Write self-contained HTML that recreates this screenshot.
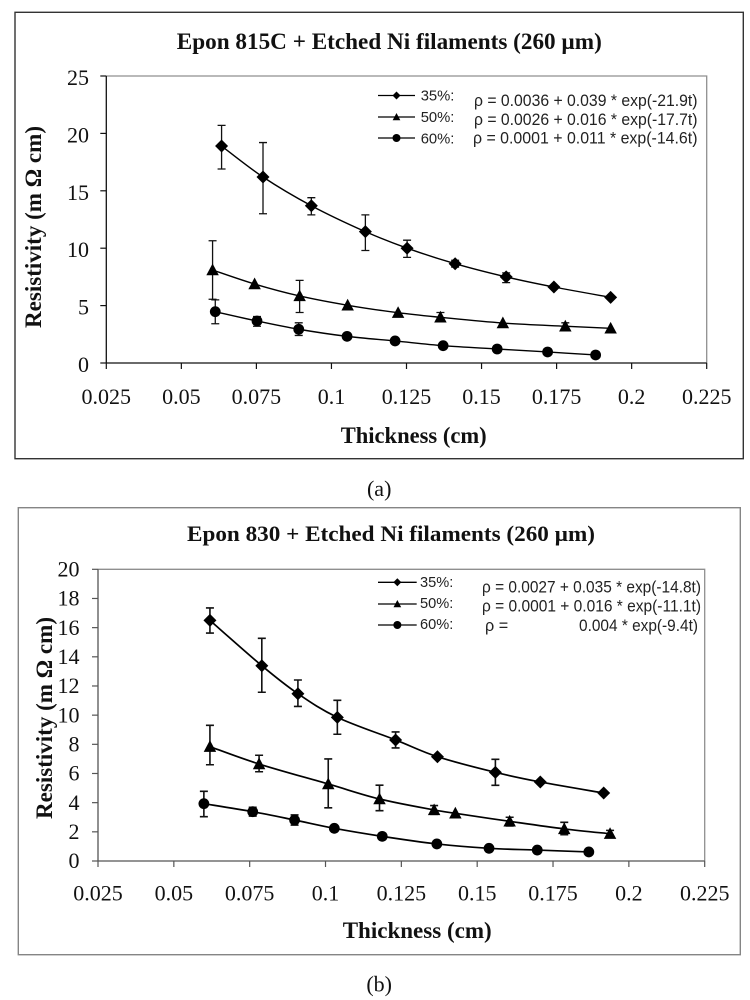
<!DOCTYPE html>
<html>
<head>
<meta charset="utf-8">
<title>Resistivity vs Thickness</title>
<style>
html,body{margin:0;padding:0;background:#fff;width:750px;height:1000px;overflow:hidden}
svg{display:block;filter:blur(0.35px)}
.serif{font-family:"Liberation Serif",serif;fill:#111}
.sans{font-family:"Liberation Sans",sans-serif;fill:#222}
.bold{font-weight:bold}
</style>
</head>
<body>
<svg id="figure" xmlns="http://www.w3.org/2000/svg" width="750" height="1000" viewBox="0 0 750 1000">
  <rect x="15" y="12.3" width="728.3" height="446.4" fill="#fff" stroke="#333" stroke-width="1.4"/>
  <text class="serif bold" x="389.3" y="49" font-size="23" text-anchor="middle" textLength="425" lengthAdjust="spacingAndGlyphs">Epon 815C + Etched Ni filaments (260 µm)</text>
  <text class="serif bold" x="413.7" y="443" font-size="23" text-anchor="middle" textLength="146" lengthAdjust="spacingAndGlyphs">Thickness (cm)</text>
  <text class="serif bold" transform="translate(41,227) rotate(-90)" font-size="23" text-anchor="middle" textLength="202" lengthAdjust="spacingAndGlyphs">Resistivity (m Ω cm)</text>

  <g>
    <text class="sans" x="420.7" y="100.7" font-size="14.8">35%:</text>
    <text class="sans" x="420.7" y="122" font-size="14.8">50%:</text>
    <text class="sans" x="420.7" y="143.7" font-size="14.8">60%:</text>
    <text class="sans" x="474" y="106" font-size="16.4" textLength="223.5" lengthAdjust="spacingAndGlyphs">ρ = 0.0036 + 0.039 * exp(-21.9t)</text>
    <text class="sans" x="474" y="125" font-size="16.4" textLength="223.5" lengthAdjust="spacingAndGlyphs">ρ = 0.0026 + 0.016 * exp(-17.7t)</text>
    <text class="sans" x="473" y="143.7" font-size="16.4" textLength="224.5" lengthAdjust="spacingAndGlyphs">ρ = 0.0001 + 0.011 * exp(-14.6t)</text>
  </g>

  <text class="serif" x="379.2" y="496" font-size="22" text-anchor="middle">(a)</text>

  <rect x="18.3" y="507.7" width="722" height="447" fill="#fff" stroke="#858585" stroke-width="1.4"/>
  <text class="serif bold" x="391" y="541" font-size="22.5" text-anchor="middle" textLength="408" lengthAdjust="spacingAndGlyphs">Epon 830 + Etched Ni filaments (260 µm)</text>
  <text class="serif bold" x="417.2" y="938" font-size="23" text-anchor="middle" textLength="149" lengthAdjust="spacingAndGlyphs">Thickness (cm)</text>
  <text class="serif bold" transform="translate(52,718) rotate(-90)" font-size="23" text-anchor="middle" textLength="202" lengthAdjust="spacingAndGlyphs">Resistivity (m Ω cm)</text>

  <g>
    <text class="sans" x="420" y="587" font-size="14.6">35%:</text>
    <text class="sans" x="420" y="608" font-size="14.6">50%:</text>
    <text class="sans" x="420" y="629" font-size="14.6">60%:</text>
    <text class="sans" x="482" y="592.7" font-size="16.2" textLength="219" lengthAdjust="spacingAndGlyphs">ρ = 0.0027 + 0.035 * exp(-14.8t)</text>
    <text class="sans" x="482" y="611.7" font-size="16.2" textLength="219" lengthAdjust="spacingAndGlyphs">ρ = 0.0001 + 0.016 * exp(-11.1t)</text>
    <text class="sans" x="485" y="631" font-size="16.2">ρ  =</text>
    <text class="sans" x="579" y="631" font-size="16.2" textLength="119" lengthAdjust="spacingAndGlyphs">0.004 * exp(-9.4t)</text>
  </g>

  <text class="serif" x="379.2" y="991.7" font-size="22" text-anchor="middle">(b)</text>
</svg>

<script>
// Shared x-axis ticks
const xTickLabels = ['0.025', '0.05', '0.075', '0.1', '0.125', '0.15', '0.175', '0.2', '0.225'];
const xTickValues = [0.025, 0.05, 0.075, 0.1, 0.125, 0.15, 0.175, 0.2, 0.225];

// Chart (a) axis ticks
const aYTickValues = [0, 5, 10, 15, 20, 25];
// Chart (b) axis ticks
const bYTickValues = [0, 2, 4, 6, 8, 10, 12, 14, 16, 18, 20];

// Chart (a): 35 %
const a35Thickness = [0.0634, 0.0772, 0.0933, 0.1113, 0.1252, 0.1412, 0.1582, 0.1741, 0.1930];
const a35Resistivity = [18.9, 16.2, 13.7, 11.44, 10.0, 8.65, 7.5, 6.62, 5.72];
const a35ErrHigh = [20.7, 19.2, 14.4, 12.9, 10.7, 8.95, 7.85, null, null];
const a35ErrLow = [16.9, 13.0, 12.9, 9.8, 9.2, 8.35, 7.0, null, null];
// Chart (a): 50 %
const a50Thickness = [0.0604, 0.0744, 0.0894, 0.1054, 0.1222, 0.1363, 0.1571, 0.1779, 0.1930];
const a50Resistivity = [8.1, 6.88, 5.84, 5.03, 4.38, 3.98, 3.48, 3.2, 3.02];
const a50ErrHigh = [10.65, null, 7.2, null, null, 4.4, null, 3.5, null];
const a50ErrLow = [5.55, null, 4.4, null, null, 3.6, null, 2.9, null];
// Chart (a): 60 %
const a60Thickness = [0.0613, 0.0752, 0.0891, 0.1052, 0.1212, 0.1372, 0.1552, 0.1720, 0.1880];
const a60Resistivity = [4.47, 3.66, 2.94, 2.32, 1.92, 1.51, 1.22, 0.96, 0.70];
const a60ErrHigh = [5.5, 4.05, 3.5, null, null, null, null, null, null];
const a60ErrLow = [3.42, 3.2, 2.4, null, null, null, null, null, null];

// Chart (b): 35 %
const b35Thickness = [0.0619, 0.0790, 0.0909, 0.1039, 0.1231, 0.1369, 0.1560, 0.1708, 0.1917];
const b35Resistivity = [16.5, 13.39, 11.47, 9.85, 8.3, 7.15, 6.08, 5.42, 4.66];
const b35ErrHigh = [17.35, 15.27, 12.41, 11.02, 8.85, null, 6.97, null, null];
const b35ErrLow = [15.63, 11.57, 10.6, 8.69, 7.75, null, 5.19, null, null];
// Chart (b): 50 %
const b50Thickness = [0.0619, 0.0781, 0.1009, 0.1178, 0.1358, 0.1428, 0.1607, 0.1787, 0.1938];
const b50Resistivity = [7.84, 6.65, 5.28, 4.25, 3.5, 3.27, 2.72, 2.2, 1.87];
const b50ErrHigh = [9.3, 7.25, 7.0, 5.2, 3.8, null, 3.0, 2.65, 2.1];
const b50ErrLow = [6.6, 6.12, 3.65, 3.45, 3.2, null, 2.4, 1.8, 1.65];
// Chart (b): 60 %
const b60Thickness = [0.0599, 0.0760, 0.0898, 0.1029, 0.1187, 0.1367, 0.1539, 0.1698, 0.1868];
const b60Resistivity = [3.93, 3.38, 2.81, 2.24, 1.69, 1.17, 0.87, 0.75, 0.62];
const b60ErrHigh = [4.78, 3.68, 3.16, null, 1.89, null, null, null, null];
const b60ErrLow = [3.04, 3.08, 2.46, null, 1.49, null, null, null, null];

const NS = 'http://www.w3.org/2000/svg';
const figure = document.getElementById('figure');

function make(parent, tag, props) {
  const el = document.createElementNS(NS, tag);
  for (const key in props) el.setAttribute(key, props[key]);
  parent.appendChild(el);
  return el;
}

function smoothPath(pts) {
  let d = 'M' + pts[0][0].toFixed(2) + ' ' + pts[0][1].toFixed(2);
  for (let i = 0; i < pts.length - 1; i++) {
    const p0 = pts[Math.max(i - 1, 0)];
    const p1 = pts[i];
    const p2 = pts[i + 1];
    const p3 = pts[Math.min(i + 2, pts.length - 1)];
    const c1x = p1[0] + (p2[0] - p0[0]) / 6;
    const c1y = p1[1] + (p2[1] - p0[1]) / 6;
    const c2x = p2[0] - (p3[0] - p1[0]) / 6;
    const c2y = p2[1] - (p3[1] - p1[1]) / 6;
    d += 'C' + c1x.toFixed(2) + ' ' + c1y.toFixed(2) + ' ' + c2x.toFixed(2) + ' ' + c2y.toFixed(2) + ' ' + p2[0].toFixed(2) + ' ' + p2[1].toFixed(2);
  }
  return d;
}

function drawMarker(parent, shape, cx, cy, size) {
  let el;
  if (shape === 'diamond') {
    el = make(parent, 'polygon', {points: cx + ',' + (cy - size * 1.25) + ' ' + (cx + size * 1.25) + ',' + cy + ' ' + cx + ',' + (cy + size * 1.25) + ' ' + (cx - size * 1.25) + ',' + cy, fill: '#000'});
  } else if (shape === 'triangle') {
    el = make(parent, 'polygon', {points: cx + ',' + (cy - size * 1.25) + ' ' + (cx + size * 1.2) + ',' + (cy + size) + ' ' + (cx - size * 1.2) + ',' + (cy + size), fill: '#000'});
  } else {
    el = make(parent, 'circle', {cx: cx, cy: cy, r: size, fill: '#000'});
  }
  return el;
}

function drawSeries(parent, sc, s) {
  const g = make(parent, 'g', {});
  
  
  s.x.forEach(function (v, i) {
    if (s.hi[i] === null) return;
    const px = sc.x(v);
    const top = sc.y(s.hi[i]);
    const bot = sc.y(s.lo[i]);
    const bar = make(g, 'path', {d: 'M' + px + ' ' + top + 'V' + bot + 'M' + (px - 4) + ' ' + top + 'H' + (px + 4) + 'M' + (px - 4) + ' ' + bot + 'H' + (px + 4), fill: 'none', stroke: '#111', 'stroke-width': sc.err});
    
    
  });
  const pts = s.x.map(function (v, i) { return [sc.x(v), sc.y(s.y[i])]; });
  const line = make(g, 'path', {d: smoothPath(pts), fill: 'none', stroke: '#000', 'stroke-width': sc.line});
  
  
  pts.forEach(function (p) {
    const m = drawMarker(g, s.shape, p[0], p[1], s.shape === 'circle' ? 5.4 : 5.2);
    
    
  });
}

function drawChart(cfg, yTicks, series) {
  const g = make(figure, 'g', {});
  
  
  const sc = {
    x: function (v) { return cfg.left + (v - 0.025) / 0.2 * (cfg.right - cfg.left); },
    y: function (v) { return cfg.bottom - v / cfg.yMax * (cfg.bottom - cfg.top); },
    line: cfg.line,
    err: cfg.err
  };
  const far = make(g, 'path', {d: 'M' + cfg.left + ' ' + cfg.top + 'H' + cfg.right + 'V' + cfg.bottom, fill: 'none', stroke: '#8f8f8f', 'stroke-width': 1.3});
  
  
  const yAxis = make(g, 'line', {x1: cfg.left, x2: cfg.left, y1: cfg.top, y2: cfg.bottom, stroke: cfg.axis, 'stroke-width': 1.3});
  
  
  const xAxis = make(g, 'line', {x1: cfg.left, x2: cfg.right, y1: cfg.bottom, y2: cfg.bottom, stroke: cfg.axis, 'stroke-width': 1.3});
  
  

  yTicks.forEach(function (v) {
    const py = sc.y(v);
    const tick = make(g, 'line', {x1: cfg.left - 6, x2: cfg.left, y1: py, y2: py, stroke: cfg.axis, 'stroke-width': 1.2});
    
    
    const label = make(g, 'text', {x: cfg.yLabelX, y: py + cfg.yLabelDy, 'text-anchor': 'end', 'font-size': 22, 'class': 'serif'});
    label.textContent = String(v);
    
    
  });
  xTickValues.forEach(function (v, i) {
    const px = sc.x(v);
    const tick = make(g, 'line', {x1: px, x2: px, y1: cfg.bottom, y2: cfg.bottom + 6, stroke: cfg.axis, 'stroke-width': 1.2});
    
    
    const label = make(g, 'text', {x: px, y: cfg.xLabelY, 'text-anchor': 'middle', 'font-size': 22, 'class': 'serif'});
    label.textContent = xTickLabels[i];
    
    
  });

  series.forEach(function (s) { drawSeries(g, sc, s); });

  cfg.legend.forEach(function (row) {
    const key = make(g, 'line', {x1: cfg.legendX1, x2: cfg.legendX2, y1: row.y, y2: row.y, stroke: '#000', 'stroke-width': 1.3});
    
    
    const mark = drawMarker(g, row.shape, (cfg.legendX1 + cfg.legendX2) / 2, row.y, row.shape === 'circle' ? 4 : 3.2);
    
    
  });
}

drawChart(
  {id: 'chart-a', left: 106.3, right: 706.7, top: 76, bottom: 363, yMax: 25, yLabelX: 89, yLabelDy: 9, xLabelY: 404, line: 1.4, err: 1.3, axis: '#111', legendX1: 378, legendX2: 415,
   legend: [{y: 95.5, shape: 'diamond'}, {y: 117, shape: 'triangle'}, {y: 138, shape: 'circle'}]},
  aYTickValues,
  [
    {name: 'a-35-percent', shape: 'diamond', x: a35Thickness, y: a35Resistivity, hi: a35ErrHigh, lo: a35ErrLow},
    {name: 'a-50-percent', shape: 'triangle', x: a50Thickness, y: a50Resistivity, hi: a50ErrHigh, lo: a50ErrLow},
    {name: 'a-60-percent', shape: 'circle', x: a60Thickness, y: a60Resistivity, hi: a60ErrHigh, lo: a60ErrLow}
  ]
);

drawChart(
  {id: 'chart-b', left: 98, right: 704.7, top: 569.3, bottom: 861, yMax: 20, yLabelX: 79.5, yLabelDy: 7.2, xLabelY: 900.7, line: 1.7, err: 1.6, axis: '#555', legendX1: 378, legendX2: 416.7,
   legend: [{y: 582.3, shape: 'diamond'}, {y: 604, shape: 'triangle'}, {y: 625, shape: 'circle'}]},
  bYTickValues,
  [
    {name: 'b-35-percent', shape: 'diamond', x: b35Thickness, y: b35Resistivity, hi: b35ErrHigh, lo: b35ErrLow},
    {name: 'b-50-percent', shape: 'triangle', x: b50Thickness, y: b50Resistivity, hi: b50ErrHigh, lo: b50ErrLow},
    {name: 'b-60-percent', shape: 'circle', x: b60Thickness, y: b60Resistivity, hi: b60ErrHigh, lo: b60ErrLow}
  ]
);
</script>
</body>
</html>
